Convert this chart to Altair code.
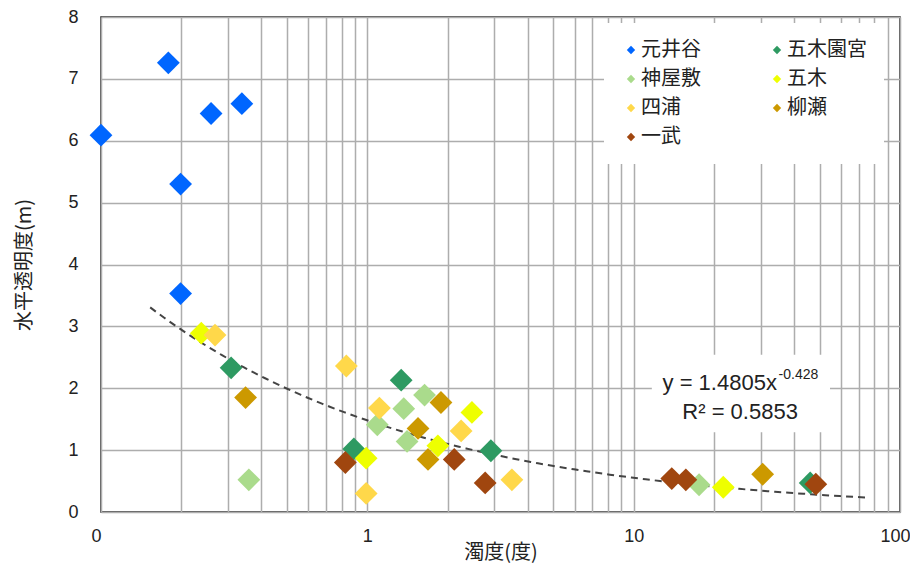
import altair as alt
import pandas as pd

# ---- data -------------------------------------------------------------
series = ["元井谷", "五木園宮", "神屋敷", "五木", "四浦", "柳瀬", "一武"]
colors = ["#0066FF", "#2E9A62", "#AADB8C", "#EEFF00", "#FFD84A", "#CC9900", "#A0460F"]
# legend is filled column by column; this order reproduces the reference's row layout
legend_order = ["元井谷", "神屋敷", "四浦", "一武", "五木園宮", "五木", "柳瀬"]

motoiidani_x = [0.10, 0.179, 0.199, 0.259, 0.338, 0.199]
motoiidani_y = [6.09, 7.26, 5.30, 6.44, 6.60, 3.53]

itsukisonomiya_x = [0.308, 0.89, 1.34, 2.91, 46.0]
itsukisonomiya_y = [2.33, 1.02, 2.13, 0.99, 0.47]

koyashiki_x = [0.359, 1.09, 1.37, 1.41, 1.64, 17.6]
koyashiki_y = [0.52, 1.41, 1.67, 1.14, 1.89, 0.44]

itsuki_x = [0.238, 0.99, 1.84, 2.47, 21.7]
itsuki_y = [2.89, 0.87, 1.07, 1.61, 0.40]

yotsuura_x = [0.268, 0.834, 0.99, 1.11, 2.25, 3.49]
yotsuura_y = [2.86, 2.36, 0.30, 1.68, 1.31, 0.52]

yanase_x = [0.349, 1.55, 1.69, 1.89, 30.5]
yanase_y = [1.85, 1.35, 0.85, 1.77, 0.61]

ichibu_x = [0.827, 2.12, 2.77, 13.9, 15.7, 48.3]
ichibu_y = [0.80, 0.85, 0.47, 0.54, 0.52, 0.45]

# power trend line y = A * x^B
trend_A = 1.4805
trend_B = -0.428
trend_x_start = 0.153
trend_x_end = 76.0

x_ticks = [0.1, 0.2, 0.3, 0.4, 0.5, 0.6, 0.7, 0.8, 0.9,
           1, 2, 3, 4, 5, 6, 7, 8, 9,
           10, 20, 30, 40, 50, 60, 70, 80, 90, 100]
y_ticks = [0, 1, 2, 3, 4, 5, 6, 7, 8]

eq_main = "y = 1.4805x"
eq_sup = "-0.428"
eq_r2 = "R² = 0.5853"

# ---- build tables -------------------------------------------------------
xs = [motoiidani_x, itsukisonomiya_x, koyashiki_x, itsuki_x, yotsuura_x, yanase_x, ichibu_x]
ys = [motoiidani_y, itsukisonomiya_y, koyashiki_y, itsuki_y, yotsuura_y, yanase_y, ichibu_y]
rows = []
for i, (name, sx, sy) in enumerate(zip(series, xs, ys)):
    for a, b in zip(sx, sy):
        rows.append({"site": name, "turb": a, "vis": b, "order": i})
df = pd.DataFrame(rows)

color_of = dict(zip(series, colors))
legend_colors = [color_of[s] for s in legend_order]

# annotation placement (data units)
ann = pd.DataFrame([
    {"x": 34.5, "y": 2.085, "t": eq_main, "kind": "main"},
    {"x": 35.0, "y": 2.22, "t": eq_sup, "kind": "sup"},
    {"x": 25.1, "y": 1.62, "t": eq_r2, "kind": "r2"},
])
box = pd.DataFrame([{"x": 11.7, "x2": 54.6, "y": 1.29, "y2": 2.54}])

FONT = "Liberation Sans"
JFONT = "Noto Sans CJK JP"

xscale = alt.Scale(type="log", domain=[0.1, 100], nice=False)
yscale = alt.Scale(domain=[0, 8], nice=False)

label_expr = ("datum.value == 0.1 ? '0' : (datum.value == 1 || datum.value == 10 || "
              "datum.value == 100) ? format(datum.value, 'd') : ''")

x_axis = alt.Axis(values=x_ticks, labelExpr=label_expr, title="濁度(度)",
                  grid=True, gridColor="#ADADAD", gridWidth=1.5, ticks=False, tickSize=0,
                  domain=False, labelFont=FONT, labelFontSize=18, labelColor="#222",
                  labelPadding=15, labelFlush=True, labelFlushOffset=10, labelOverlap=False,
                  titleFont=JFONT, titleFontSize=20, titleFontWeight="normal",
                  titleColor="#222", titlePadding=-3)
y_axis = alt.Axis(values=y_ticks, format="d", title="水平透明度(m)",
                  grid=True, gridColor="#ADADAD", gridWidth=1.5, ticks=False, tickSize=0,
                  domain=False, labelFont=FONT, labelFontSize=18, labelColor="#222",
                  labelPadding=23, titleFont=JFONT, titleFontSize=20,
                  titleFontWeight="normal", titleColor="#222", titlePadding=33)

base_x = alt.X("turb:Q", scale=xscale, axis=x_axis)
base_y = alt.Y("vis:Q", scale=yscale, axis=y_axis)

points = alt.Chart(df).mark_point(shape="diamond", filled=True, size=520, opacity=1).encode(
    x=base_x,
    y=base_y,
    color=alt.Color("site:N", scale=alt.Scale(domain=legend_order, range=legend_colors),
                    legend=alt.Legend(orient="none", legendX=503, legendY=6, columns=2,
                                      title=None, fillColor="white", padding=17,
                                      symbolType="diamond", symbolSize=70,
                                      symbolStrokeWidth=0, labelFont=JFONT,
                                      labelFontSize=20, labelColor="#222",
                                      labelOffset=0, columnPadding=66, rowPadding=9)),
    order=alt.Order("order:Q"),
)

trend = (
    alt.Chart(alt.sequence(start=0, stop=1.0001, step=0.01, as_="t"))
    .transform_calculate(
        turb=f"pow(10, log({trend_x_start})/LN10 + datum.t*(log({trend_x_end})/LN10 - log({trend_x_start})/LN10))"
    )
    .transform_calculate(vis=f"{trend_A}*pow(datum.turb, {trend_B})")
    .mark_line(color="#444444", strokeDash=[7, 5], strokeWidth=2)
    .encode(x=alt.X("turb:Q", scale=xscale), y=alt.Y("vis:Q", scale=yscale))
)

whitebox = alt.Chart(box).mark_rect(color="white").encode(
    x=alt.X("x:Q", scale=xscale), x2="x2:Q",
    y=alt.Y("y:Q", scale=yscale), y2="y2:Q")

txt_main = alt.Chart(ann).transform_filter("datum.kind == 'main'").mark_text(
    font=FONT, fontSize=22, color="#222", align="right", baseline="middle").encode(
    x=alt.X("x:Q", scale=xscale), y=alt.Y("y:Q", scale=yscale), text="t:N")
txt_sup = alt.Chart(ann).transform_filter("datum.kind == 'sup'").mark_text(
    font=FONT, fontSize=14, color="#222", align="left", baseline="middle").encode(
    x=alt.X("x:Q", scale=xscale), y=alt.Y("y:Q", scale=yscale), text="t:N")
txt_r2 = alt.Chart(ann).transform_filter("datum.kind == 'r2'").mark_text(
    font=FONT, fontSize=22, color="#222", align="center", baseline="middle").encode(
    x=alt.X("x:Q", scale=xscale), y=alt.Y("y:Q", scale=yscale), text="t:N")

chart = alt.layer(whitebox, trend, points, txt_main, txt_sup, txt_r2).properties(
    width=799, height=495,
    autosize=alt.AutoSizeParams(type="none"),
    padding={"left": 93, "top": 9, "right": 10, "bottom": 52},
).configure_view(stroke="#222", strokeWidth=1.5)

chart.save("out.html", embed_options={"renderer": "svg", "actions": False})
